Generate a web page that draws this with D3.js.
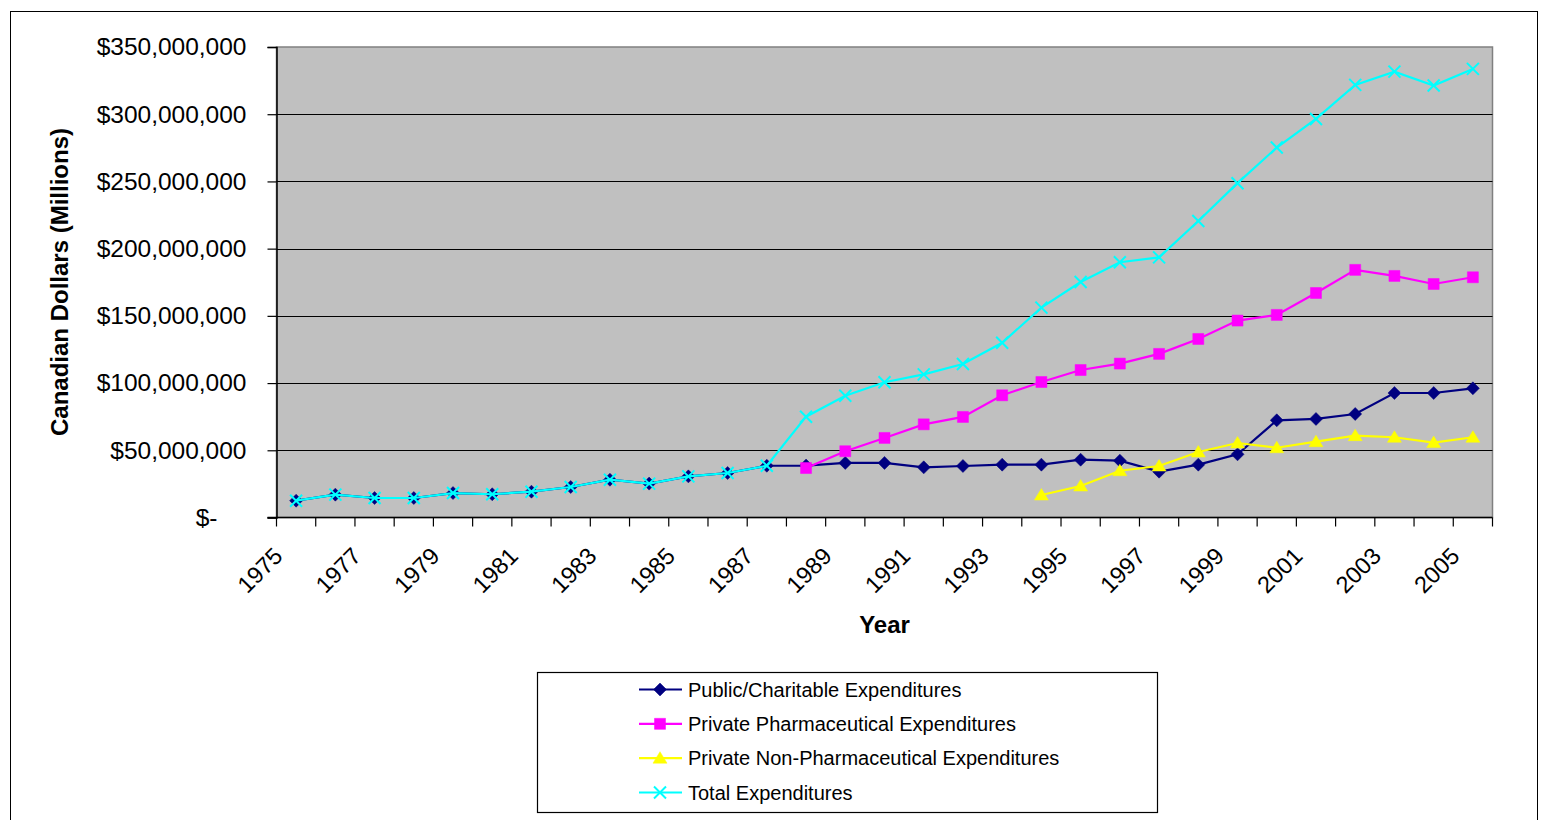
<!DOCTYPE html>
<html>
<head>
<meta charset="utf-8">
<script src="https://cdn.jsdelivr.net/npm/d3@7"></script>
<style>
  html, body { margin: 0; padding: 0; background: #fff; }
  svg { display: block; font-family: "Liberation Sans", Arial, sans-serif; }
</style>
</head>
<body>
<svg id="chart" width="1548" height="820"></svg>
<script>
// Health expenditure series, millions of Canadian dollars (null = not reported)
const years = d3.range(1975, 2006).map(String);

const publicCharitable = [12.5, 17.0, 14.5, 14.5, 18.2, 17.3, 19.2, 22.7, 28.1, 25.2, 30.6, 33.1, 38.5,
  38.6, 40.6, 40.6, 37.3, 38.3, 39.3, 39.3, 43.0, 42.3, 34.1, 39.3, 47.0, 72.3, 73.3, 77.0, 92.6, 92.6, 96.1];

const privatePharma = [null, null, null, null, null, null, null, null, null, null, null, null, null,
  36.8, 49.3, 59.2, 69.3, 74.8, 90.9, 100.8, 109.7, 114.5, 121.7, 132.8, 146.5, 150.7, 167.0, 184.2, 179.7, 173.7, 178.7];

const privateNonPharma = [null, null, null, null, null, null, null, null, null, null, null, null, null,
  null, null, null, null, null, null, 16.7, 23.4, 34.8, 38.3, 48.7, 55.4, 51.9, 56.4, 60.9, 59.7, 55.7, 59.7];

const totalExp = [12.5, 17.0, 14.5, 14.5, 18.2, 17.3, 19.2, 22.7, 28.1, 25.2, 30.6, 33.1, 38.5,
  75.0, 90.6, 100.6, 106.5, 114.2, 130.0, 156.1, 175.2, 189.9, 193.5, 220.6, 248.7, 275.2, 296.5, 321.8, 331.7, 321.3, 333.7];

const seriesNames = [
  "Public/Charitable Expenditures",
  "Private Pharmaceutical Expenditures",
  "Private Non-Pharmaceutical Expenditures",
  "Total Expenditures"
];

const yTickValues = [0, 50, 100, 150, 200, 250, 300, 350];
const xTickLabels = years.filter((d, i) => i % 2 === 0);

// ---------------------------------------------------------------------------
const svg = d3.select("#chart");
const plot = { left: 276.5, right: 1492.5, top: 47, bottom: 517.5 };

const x = d3.scaleBand().domain(years).range([plot.left, plot.right]).padding(0);
const y = d3.scaleLinear().domain([0, 350]).range([plot.bottom, plot.top]);

const styles = [
  { color: "#000080", marker: "diamond" },
  { color: "#FF00FF", marker: "square" },
  { color: "#FFFF00", marker: "triangle" },
  { color: "#00FFFF", marker: "cross" }
];
const seriesValues = [publicCharitable, privatePharma, privateNonPharma, totalExp];

// outer chart frame
svg.append("rect")
  .attr("x", 10.5).attr("y", 11.5).attr("width", 1527).attr("height", 830)
  .attr("fill", "none").attr("stroke", "#000").attr("stroke-width", 1);

// plot background
svg.append("rect")
  .attr("x", plot.left).attr("y", plot.top)
  .attr("width", plot.right - plot.left).attr("height", plot.bottom - plot.top)
  .attr("fill", "#C0C0C0").attr("stroke", "#808080").attr("stroke-width", 1.5);

// horizontal gridlines
svg.append("g").selectAll("line")
  .data(yTickValues.filter(v => v > 0 && v < 350))
  .join("line")
  .attr("x1", plot.left).attr("x2", plot.right)
  .attr("y1", d => Math.round(y(d)) + 0.5).attr("y2", d => Math.round(y(d)) + 0.5)
  .attr("stroke", "#000").attr("stroke-width", 1.2);

// y axis
const fmt = d3.format(",.0f");
const yAxis = d3.axisLeft(y)
  .tickValues(yTickValues)
  .tickSize(9)
  .tickPadding(21)
  .tickFormat(v => v === 0 ? "$-" : "$" + fmt(v * 1e6));

const yg = svg.append("g")
  .attr("transform", `translate(${plot.left},0)`)
  .call(yAxis);
yg.select(".domain").attr("stroke", "#000").attr("stroke-width", 1.5);
yg.selectAll(".tick line").attr("stroke", "#000").attr("stroke-width", 1.2);
yg.selectAll(".tick text")
  .attr("font-size", 24.5)
  .attr("fill", "#000")
  .attr("font-family", "Liberation Sans, Arial, sans-serif")
  .attr("dx", d => d === 0 ? -29 : 0);

// x axis: labels on every other year, tick marks at every category boundary
const xAxis = d3.axisBottom(x)
  .tickValues(xTickLabels)
  .tickSize(0)
  .tickPadding(0);

const xg = svg.append("g")
  .attr("transform", `translate(0,${plot.bottom})`)
  .call(xAxis);
xg.select(".domain").remove();
xg.selectAll(".tick text")
  .attr("font-size", 23.5)
  .attr("fill", "#000")
  .attr("font-family", "Liberation Sans, Arial, sans-serif")
  .attr("text-anchor", "end")
  .attr("x", 0).attr("y", 0).attr("dy", 0)
  .attr("transform", "translate(-12,40) rotate(-45)");

const boundaries = years.map(d => x(d)).concat([x.range()[1]]);
svg.append("g").selectAll("line")
  .data(boundaries)
  .join("line")
  .attr("x1", d => d).attr("x2", d => d)
  .attr("y1", plot.bottom).attr("y2", plot.bottom + 9)
  .attr("stroke", "#000").attr("stroke-width", 1.2);

svg.append("line")
  .attr("x1", plot.left - 9).attr("x2", plot.right)
  .attr("y1", plot.bottom).attr("y2", plot.bottom)
  .attr("stroke", "#000").attr("stroke-width", 1.5);

// axis titles
svg.append("text")
  .attr("transform", "translate(68,282) rotate(-90)")
  .attr("text-anchor", "middle")
  .attr("font-size", 24).attr("font-weight", "bold")
  .text("Canadian Dollars (Millions)");

svg.append("text")
  .attr("x", (plot.left + plot.right) / 2).attr("y", 633)
  .attr("text-anchor", "middle")
  .attr("font-size", 24).attr("font-weight", "bold")
  .text("Year");

// marker shapes
function markerPath(kind) {
  switch (kind) {
    case "diamond": return "M0,-6.5L6.5,0L0,6.5L-6.5,0Z";
    case "square": return "M-5.5,-5.5H5.5V5.5H-5.5Z";
    case "triangle": return "M0,-6.5L7,5L-7,5Z";
    case "cross": return "M-6,-6L6,6M6,-6L-6,6";
  }
}
function drawMarker(sel, style) {
  const filled = style.marker !== "cross";
  sel.attr("d", markerPath(style.marker))
    .attr("fill", filled ? style.color : "none")
    .attr("stroke", style.color)
    .attr("stroke-width", filled ? 0.5 : 2);
}

const line = d3.line()
  .defined(d => d.v !== null)
  .x(d => x(d.year) + x.bandwidth() / 2)
  .y(d => y(d.v));

seriesValues.forEach((vals, i) => {
  const pts = years.map((yr, j) => ({ year: yr, v: vals[j] }));
  const g = svg.append("g");
  g.append("path")
    .datum(pts)
    .attr("d", line)
    .attr("fill", "none")
    .attr("stroke", styles[i].color)
    .attr("stroke-width", 2.2);
  g.selectAll("path.m")
    .data(pts.filter(d => d.v !== null))
    .join("path")
    .attr("class", "m")
    .attr("transform", d => `translate(${x(d.year) + x.bandwidth() / 2},${y(d.v)})`)
    .call(drawMarker, styles[i]);
});

// legend
const legend = svg.append("g");
legend.append("rect")
  .attr("x", 537.5).attr("y", 672.5).attr("width", 620).attr("height", 140)
  .attr("fill", "#fff").attr("stroke", "#000").attr("stroke-width", 1.2);

const rowY = d3.scalePoint().domain(seriesNames).range([689.5, 792.5]);
seriesNames.forEach((name, i) => {
  const ry = rowY(name);
  legend.append("line")
    .attr("x1", 639).attr("x2", 682).attr("y1", ry).attr("y2", ry)
    .attr("stroke", styles[i].color).attr("stroke-width", 2.2);
  legend.append("path")
    .attr("transform", `translate(660,${ry})`)
    .call(drawMarker, styles[i]);
  legend.append("text")
    .attr("x", 688).attr("y", ry).attr("dy", "0.36em")
    .attr("font-size", 20)
    .text(name);
});
</script>
</body>
</html>
